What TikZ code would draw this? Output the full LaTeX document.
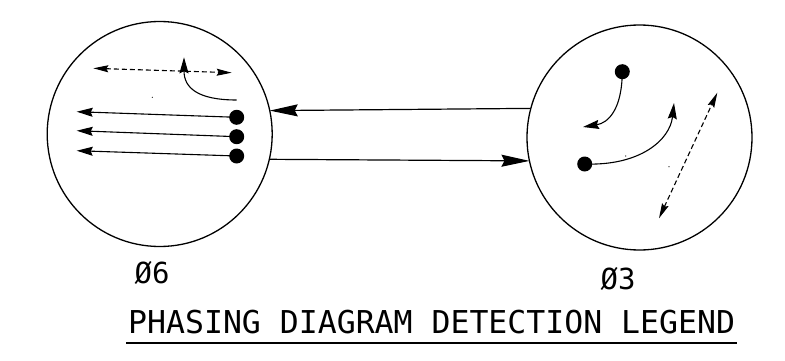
\documentclass[tikz,border=0pt]{standalone}
\usepackage{fontspec}
\newfontfamily\monofont{DejaVu Sans Mono}
\usetikzlibrary{arrows.meta,calc}
\begin{document}
\begin{tikzpicture}[x=1pt,y=-1pt,
  ring/.style={circle,draw,line width=1.3pt,minimum size=225pt,inner sep=0pt,outer sep=0pt},
  bigarrow/.style={line width=1.2pt,-{Stealth[length=28pt,width=12pt,inset=3pt]}},
  smallarrow/.style={line width=1.1pt,-{Stealth[length=16pt,width=9pt,inset=2pt]}},
  dasharrow/.style={line width=1.1pt,dash pattern=on 5pt off 3pt,{Stealth[length=15pt,width=7pt,inset=2pt]}-{Stealth[length=15pt,width=7pt,inset=2pt]}},
  blob/.style={circle,fill,inner sep=0pt,minimum size=15pt},
  speck/.style={circle,fill,inner sep=0pt,minimum size=1.2pt},
  lbl/.style={font=\monofont\fontsize{29}{32}\selectfont,inner sep=0pt,anchor=base}
]
\useasboundingbox (0,0) rectangle (785,361);
% circles
\node[ring] (L) at (159.7,134) {};
\node[ring] (R) at (639.5,137.5) {};
% connectors between circles
\draw[bigarrow] (R.165.3) -- (L.12.8);
\draw[bigarrow] (L.-13.9) -- (R.192.1);
% left circle content
\coordinate (da) at (93.3,68.3);
\coordinate (db) at (231.7,72.7);
\draw[dasharrow] (da) -- (db);
\coordinate (cs) at (236.7,100);
\coordinate (ce) at (184,57.3);
\draw[smallarrow] (cs) .. controls (198,100) and (184,88) .. (ce);
\node[blob] (d1) at (236.7,117.3) {};
\node[blob] (d2) at (236.7,136.7) {};
\node[blob] (d3) at (236.7,156) {};
\coordinate (t1) at (76.7,111.7);
\coordinate (t2) at (76.7,130.7);
\coordinate (t3) at (76.7,150.7);
\draw[smallarrow] (d1.center) -- (t1);
\draw[smallarrow] (d2.center) -- (t2);
\draw[smallarrow] (d3.center) -- (t3);
\node[speck] (s1) at (152.3,97.3) {};
% right circle content
\node[blob] (d4) at (622.3,71.7) {};
\coordinate (t4) at (583,127);
\draw[smallarrow] (d4.center) .. controls (622,110) and (608,123) .. (t4);
\node[blob] (d5) at (584.7,164) {};
\coordinate (t5) at (674,103);
\draw[smallarrow] (d5.center) .. controls (640,166) and (670,140) .. (t5);
\coordinate (dc) at (659,218.3);
\coordinate (dd) at (717.3,92.7);
\draw[dasharrow] (dc) -- (dd);
\node[speck] (s2) at (625.7,156) {};
\node[speck] (s3) at (669,166.7) {};
% labels
\node[lbl] (l6) at (152,283) {Ø6};
\node[lbl] (l3) at (618,289) {Ø3};
\node[font=\monofont\fontsize{31.5}{34}\selectfont,inner sep=0pt,anchor=base west] (title) at (128,333) {PHASING DIAGRAM DETECTION LEGEND};
\draw[line width=1.2pt] ($(title.base west)+(-2,10)$) -- ($(title.base east)+(2,10)$);
\end{tikzpicture}
\end{document}
